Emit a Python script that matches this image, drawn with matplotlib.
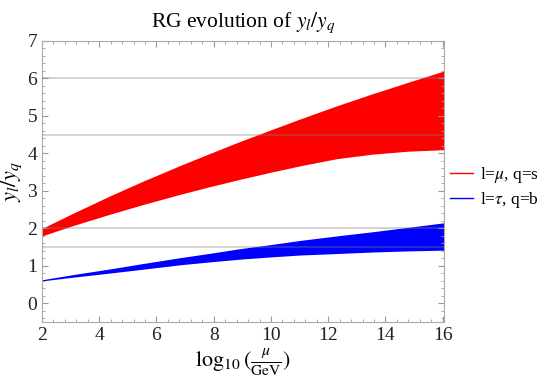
import matplotlib
matplotlib.use("Agg")
import matplotlib.pyplot as plt
from matplotlib.ticker import MultipleLocator
from matplotlib.lines import Line2D

x_vals = [2.0, 3.10, 4.38, 5.50, 6.83, 7.90, 8.92, 10.0, 11.02, 12.3, 13.54, 14.8, 16.05]
red_top = [2.00, 2.41, 2.87, 3.25, 3.68, 4.01, 4.32, 4.63, 4.92, 5.27, 5.59, 5.90, 6.20]
red_bot = [1.80, 2.08, 2.38, 2.63, 2.91, 3.12, 3.31, 3.50, 3.67, 3.86, 3.98, 4.06, 4.10]
blue_top = [0.63, 0.77, 0.92, 1.06, 1.22, 1.34, 1.46, 1.57, 1.68, 1.80, 1.91, 2.03, 2.15]
blue_bot = [0.60, 0.70, 0.81, 0.91, 1.03, 1.11, 1.18, 1.24, 1.29, 1.33, 1.37, 1.40, 1.42]
hlines = [6.0, 4.5, 2.0, 1.5]
labels = [r"l=$\mu$, q=s", r"l=$\tau$, q=b"]

plt.rcParams['font.family'] = ['Liberation Serif', 'DejaVu Serif']
plt.rcParams['mathtext.fontset'] = 'stix'

fig = plt.figure(figsize=(5.45, 3.79), dpi=100)
ax = fig.add_axes([0.077, 0.150, 0.738, 0.742])

ax.fill_between(x_vals, red_bot, red_top, color='red', lw=0)
ax.fill_between(x_vals, blue_bot, blue_top, color='blue', lw=0)
for h in hlines:
    ax.axhline(h, color='#808080', alpha=0.4, lw=1.2, zorder=3)

ax.set_xlim(2, 16.05)
ax.set_ylim(-0.5, 7)
ax.xaxis.set_major_locator(MultipleLocator(2))
ax.xaxis.set_minor_locator(MultipleLocator(0.4))
ax.yaxis.set_major_locator(MultipleLocator(1))
ax.yaxis.set_minor_locator(MultipleLocator(0.2))
ax.tick_params(which='both', direction='in', top=True, right=True, color='#999999',
               labelsize=14, labelcolor='#222222')
ax.tick_params(which='major', length=4)
ax.tick_params(which='minor', length=2)
for s in ax.spines.values():
    s.set_color('#aaaaaa')

ax.set_title(r"RG evolution of $y_l/y_q$", fontsize=15.5, pad=10)
ax.set_ylabel(r"$y_l/y_q$", fontsize=16, labelpad=2)
ax.set_xlabel(r"$\log_{10}(\frac{\mu}{\mathrm{GeV}})$", fontsize=16, labelpad=2)

handles = [Line2D([0], [0], color='red', lw=1), Line2D([0], [0], color='blue', lw=1)]
fig.legend(handles, labels, loc='center left', bbox_to_anchor=(0.82, 0.505),
           frameon=False, fontsize=12.5, handlelength=1.3, handletextpad=0.4,
           labelspacing=0.3, borderaxespad=0.0, borderpad=0.2)

fig.savefig("out.png", dpi=100)
